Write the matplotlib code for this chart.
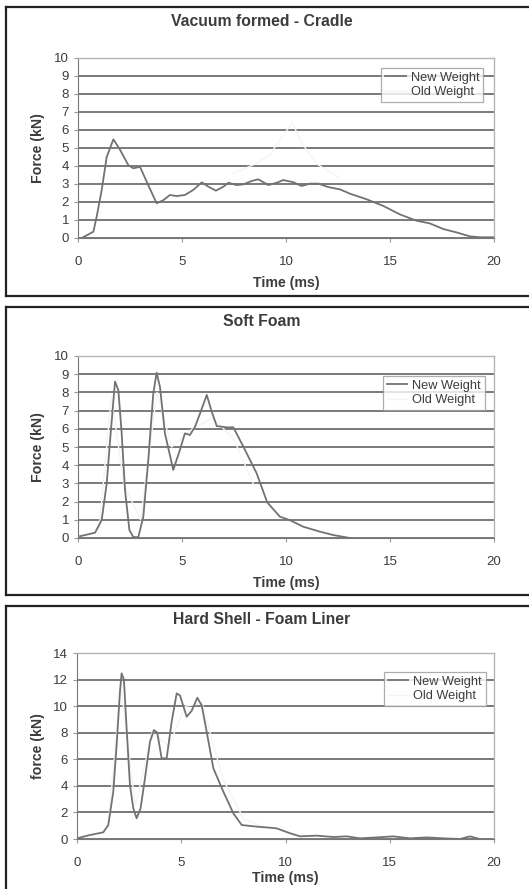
import matplotlib
matplotlib.use("Agg")
import matplotlib.pyplot as plt
from matplotlib.lines import Line2D

plt.rcParams['font.family'] = ['Liberation Sans', 'DejaVu Sans']

# ---------------- data ----------------
titles = ["Vacuum formed - Cradle", "Soft Foam", "Hard Shell - Foam Liner"]
ylabels = ["Force (kN)", "Force (kN)", "force (kN)"]
xlabel = "Time (ms)"
series_names = ["New Weight", "Old Weight"]
x_ticks = [0, 5, 10, 15, 20]
y_ticks_1 = [0, 1, 2, 3, 4, 5, 6, 7, 8, 9, 10]
y_ticks_2 = [0, 1, 2, 3, 4, 5, 6, 7, 8, 9, 10]
y_ticks_3 = [0, 2, 4, 6, 8, 10, 12, 14]

# Vacuum formed - Cradle, New Weight
t1 = [0.18, 0.74, 0.9, 1.14, 1.38, 1.70, 2.02, 2.42, 2.66, 2.98, 3.30, 3.78, 4.1,
      4.42, 4.74, 5.14, 5.54, 5.95, 6.27, 6.63, 6.99, 7.23, 7.63, 7.95, 8.35, 8.67,
      9.15, 9.55, 9.87, 10.35, 10.75, 11.15, 11.55, 12.03, 12.6, 13.08, 13.88,
      14.68, 15.48, 16.28, 16.92, 17.56, 18.2, 18.85, 19.33, 20.0]
f1 = [0.0, 0.35, 1.2, 2.67, 4.5, 5.48, 4.9, 4.05, 3.87, 3.96, 3.13, 1.93, 2.1,
      2.39, 2.33, 2.39, 2.67, 3.09, 2.85, 2.63, 2.85, 3.07, 2.94, 2.98, 3.17, 3.26,
      2.94, 3.07, 3.22, 3.1, 2.89, 3.02, 3.02, 2.83, 2.7, 2.46, 2.15,
      1.78, 1.31, 0.96, 0.81, 0.5, 0.31, 0.09, 0.04, 0.04]
# Vacuum formed - Cradle, Old Weight (barely visible, rough estimate)
t1_old = [7.5, 8.5, 9.2, 9.8, 10.3, 10.8, 11.5, 12.5]
f1_old = [3.6, 4.1, 4.6, 5.6, 6.4, 5.2, 4.1, 3.4]

# Soft Foam, New Weight
t2 = [0.1, 0.82, 1.14, 1.38, 1.57, 1.78, 1.94, 2.1, 2.26, 2.47, 2.66, 2.9, 3.14,
      3.38, 3.62, 3.78, 3.94, 4.18, 4.58, 4.9, 5.14, 5.38, 5.63, 5.87, 6.19, 6.43,
      6.67, 7.15, 7.47, 7.95, 8.59, 9.1, 9.71, 10.19, 10.83, 11.63, 12.28, 13.08]
f2 = [0.1, 0.29, 0.99, 3.0, 5.75, 8.59, 8.13, 5.75, 2.64, 0.44, 0.05, 0.05, 1.17,
      4.29, 7.95, 9.08, 8.31, 5.75, 3.74, 4.84, 5.75, 5.66, 6.12, 6.85, 7.86, 6.94,
      6.15, 6.08, 6.08, 5.02, 3.55, 1.95, 1.17, 0.98, 0.62, 0.35, 0.16, 0.0]
# Soft Foam, Old Weight (barely visible, rough estimate)
t2_old = [1.0, 1.6, 2.2, 3.0, 3.8, 4.5, 5.5, 6.5, 7.5, 8.5]
f2_old = [0.3, 7.8, 3.0, 1.0, 8.0, 5.0, 6.0, 6.6, 5.4, 2.8]

# Hard Shell - Foam Liner, New Weight
t3 = [0.0, 0.62, 1.26, 1.5, 1.74, 1.9, 2.06, 2.14, 2.25, 2.38, 2.54, 2.7, 2.86,
      3.05, 3.26, 3.5, 3.69, 3.85, 4.06, 4.3, 4.54, 4.78, 4.94, 5.26, 5.5, 5.77,
      5.98, 6.22, 6.54, 7.02, 7.5, 7.9, 8.62, 9.26, 9.58, 10.22, 10.7, 11.5, 12.3,
      12.94, 13.57, 14.37, 15.17, 15.97, 16.77, 17.57, 18.37, 18.85, 19.3]
f3 = [0.05, 0.3, 0.5, 1.05, 3.56, 7.07, 11.08, 12.47, 12.0, 8.33, 4.06, 2.31, 1.56,
      2.31, 4.57, 7.32, 8.2, 8.0, 6.07, 6.07, 8.83, 10.96, 10.8, 9.2, 9.65, 10.63,
      10.07, 8.07, 5.32, 3.56, 1.93, 1.05, 0.93, 0.85, 0.8, 0.43, 0.2, 0.25, 0.15,
      0.2, 0.05, 0.12, 0.2, 0.05, 0.12, 0.05, 0.0, 0.2, 0.0]
# Hard Shell - Foam Liner, Old Weight (barely visible, rough estimate)
t3_old = [1.5, 2.1, 2.8, 3.6, 4.4, 5.2, 6.0, 7.0, 8.0, 9.0]
f3_old = [1.0, 11.5, 2.5, 8.0, 7.0, 10.0, 10.2, 4.5, 1.5, 0.9]

# ---------------- figure ----------------
W, H = 529, 889
fig = plt.figure(figsize=(W / 100, H / 100), dpi=100)

def fx(px):
    return px / W

def fy(py):
    return 1 - py / H

line_col = '#727272'
old_col = '#f8f3f3'
grid_col = '#636363'
text_col = '#3c3c3c'

panels = [
    dict(t=t1, f=f1, to=t1_old, fo=f1_old, yt=y_ticks_1, ymax=10,
         ax=(78, 58, 494, 238), box=(7, 296), title_y=22, xlab_y=283,
         leg=(0.974, 0.944)),
    dict(t=t2, f=f2, to=t2_old, fo=f2_old, yt=y_ticks_2, ymax=10,
         ax=(78, 356, 494, 538), box=(307, 595), title_y=321, xlab_y=583,
         leg=(0.978, 0.89)),
    dict(t=t3, f=f3, to=t3_old, fo=f3_old, yt=y_ticks_3, ymax=14,
         ax=(77, 653, 494, 839), box=(606, 905), title_y=620, xlab_y=878,
         leg=(0.98, 0.898)),
]

for i, p in enumerate(panels):
    # panel frame (open on the right)
    top, bot = p['box']
    fig.add_artist(Line2D([fx(6), fx(6)], [fy(top), fy(bot)], color='#222222', lw=1.6))
    fig.add_artist(Line2D([fx(6), 1.0], [fy(top), fy(top)], color='#222222', lw=1.6))
    fig.add_artist(Line2D([fx(6), 1.0], [fy(bot), fy(bot)], color='#222222', lw=1.6))

    x0, y0, x1, y1 = p['ax']
    ax = fig.add_axes([fx(x0), fy(y1), (x1 - x0) / W, (y1 - y0) / H])
    ax.plot(p['to'], p['fo'], color=old_col, lw=1.0, label=series_names[1], zorder=2)
    ax.plot(p['t'], p['f'], color=line_col, lw=1.3, label=series_names[0], zorder=3)
    ax.set_xlim(0, 20)
    ax.set_ylim(0, p['ymax'])
    ax.set_xticks(x_ticks)
    ax.set_yticks(p['yt'])
    ax.yaxis.grid(True, color=grid_col, lw=1.2)
    ax.set_axisbelow(True)
    for s in ['top', 'right']:
        ax.spines[s].set_color('#b5b5b5')
        ax.spines[s].set_linewidth(1.0)
    ax.spines['left'].set_color('#777777')
    ax.spines['bottom'].set_color('#777777')
    ax.tick_params(axis='both', colors='#999999', labelcolor=text_col,
                   labelsize=9.5, length=3, width=0.8)
    ax.tick_params(axis='x', pad=10)

    fig.text(fx(262), fy(p['title_y']), titles[i],
             ha='center', va='center', fontsize=11.3, fontweight='bold', color=text_col)
    fig.text(0.5 * (fx(x0) + fx(x1)), fy(p['xlab_y']), xlabel,
             ha='center', va='center', fontsize=10.2, fontweight='bold', color=text_col)
    fig.text(fx(38), 0.5 * (fy(y0) + fy(y1)), ylabels[i], rotation=90,
             ha='center', va='center', fontsize=10.2, fontweight='bold', color=text_col)

    handles, labels = ax.get_legend_handles_labels()
    order = [1, 0]
    leg = ax.legend([handles[j] for j in order], [labels[j] for j in order],
                    loc='upper right', bbox_to_anchor=p['leg'], fontsize=9.2,
                    frameon=True, fancybox=False, edgecolor='#999999',
                    handlelength=1.6, handletextpad=0.4, borderpad=0.3,
                    labelspacing=0.2, borderaxespad=0.0)
    leg.get_frame().set_linewidth(0.9)
    for txt in leg.get_texts():
        txt.set_color(text_col)

fig.savefig('out.png', dpi=100, facecolor='white')
